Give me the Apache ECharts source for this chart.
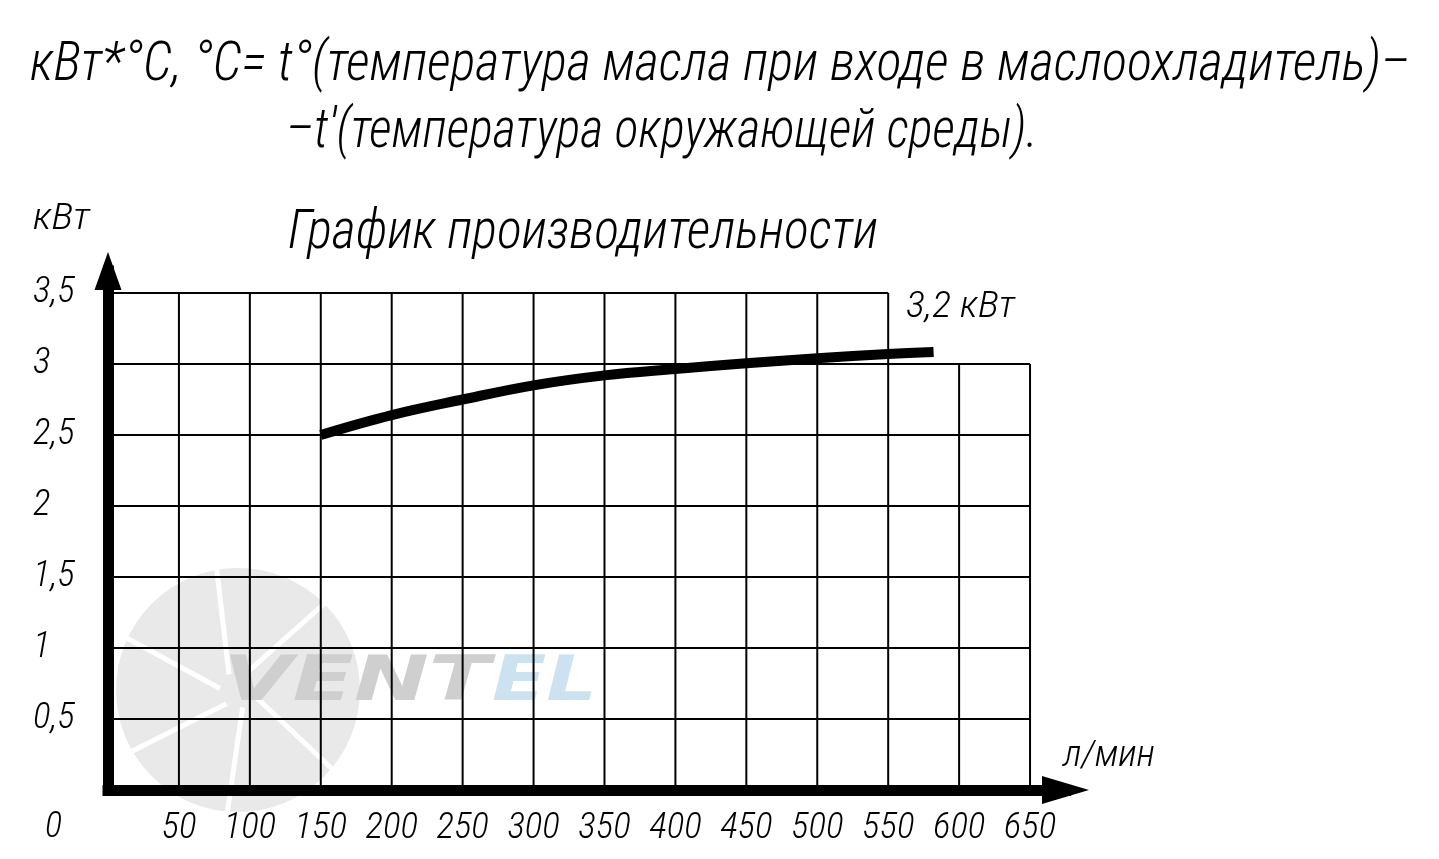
<!DOCTYPE html>
<html>
<head>
<meta charset="utf-8">
<script src="https://cdn.jsdelivr.net/npm/echarts@6/dist/echarts.min.js"></script>
<style>
html,body{margin:0;padding:0;background:#fff;}
#chart{width:1439px;height:859px;}
</style>
</head>
<body>
<div id="chart"></div>
<script>
// ---- data ----
const flowValues = [150, 200, 250, 300, 350, 400, 450, 500, 550, 582];      // л/мин
const powerValues = [2.5, 2.64, 2.75, 2.85, 2.92, 2.965, 3.005, 3.04, 3.07, 3.085]; // кВт
const xTicks = [0, 50, 100, 150, 200, 250, 300, 350, 400, 450, 500, 550, 600, 650];
const yTicks = [0, 0.5, 1, 1.5, 2, 2.5, 3, 3.5];
const upperRowEnd = 550;   // the 3–3.5 row of the grid stops at 550 л/мин
const curveLabel = '3,2 кВт';
const titleLine1 = 'кВт*°С, °С= t°(температура масла при входе в маслоохладитель)–';
const titleLine2 = '–t\'(температура окружающей среды).';
const chartTitle = 'График производительности';
const yUnit = 'кВт';
const xUnit = 'л/мин';

// pick the narrowest installed font
const cv = document.createElement('canvas').getContext('2d');
function has(f) {
  cv.font = '40px monospace'; const a = cv.measureText('абвгдежзийклмн wmWM 0123').width;
  cv.font = '40px "' + f + '", monospace'; const b = cv.measureText('абвгдежзийклмн wmWM 0123').width;
  return a !== b;
}
const candidates = ['Roboto Condensed', 'Liberation Sans Narrow', 'DejaVu Sans Condensed', 'Roboto'];
const FONTNAME = candidates.find(has) || 'sans-serif';
const FONT = '"' + FONTNAME + '", sans-serif';
const WEIGHT = /Roboto/.test(FONTNAME) ? 300 : 'normal';

const xMax = xTicks[xTicks.length - 1];
const yMax = yTicks[yTicks.length - 1];

// grid segments built from tick values
const gridSegments = [];
xTicks.forEach(x => { if (x > 0) gridSegments.push([x, 0, x, x <= upperRowEnd ? yMax : yTicks[yTicks.length - 2]]); });
yTicks.forEach(y => { if (y > 0) gridSegments.push([0, y, y === yMax ? upperRowEnd : xMax, y]); });

// text fitted to a width: x = left edge, y = vertical middle
function fitText(text, x, y, width, size, opts) {
  opts = opts || {};
  const font = (opts.style || 'italic') + ' ' + (opts.weight || WEIGHT) + ' ' + size + 'px ' + (opts.family || FONT);
  cv.font = font;
  const w = cv.measureText(text).width;
  return {type: 'text', x: x, y: y, scaleX: width / w, scaleY: 1, z: opts.z || 10, silent: true,
    style: {text: text, font: font, fill: opts.fill || '#000', align: 'left', verticalAlign: 'middle', x: 0, y: 0}};
}

const chart = echarts.init(document.getElementById('chart'), null, {renderer: 'canvas'});

// faint fan watermark
const fanCx = 238, fanCy = 690, fanR = 122;
const fanGraphics = [{type: 'circle', z: -30, silent: true, shape: {cx: fanCx, cy: fanCy, r: fanR}, style: {fill: '#e9e9e9'}}];
[20, 75, 130, 185, 240, 295].forEach(a => {
  const r0 = a * Math.PI / 180;
  fanGraphics.push({type: 'line', z: -29, silent: true,
    shape: {x1: fanCx + 18 * Math.cos(r0), y1: fanCy + 18 * Math.sin(r0), x2: fanCx + (fanR + 2) * Math.cos(r0 + 0.35), y2: fanCy + (fanR + 2) * Math.sin(r0 + 0.35)},
    style: {stroke: '#fff', lineWidth: 5}});
});

chart.setOption({
  backgroundColor: '#fff',
  animation: false,
  grid: {left: 108, right: 373.5, top: 271, bottom: 69, containLabel: false},
  xAxis: {
    type: 'value', min: 0, max: 675, interval: 50,
    axisLine: {show: true, symbol: ['none', 'triangle'], symbolSize: [28, 47],
      lineStyle: {color: '#000', width: 11, cap: 'square'}},
    axisTick: {show: false}, splitLine: {show: false},
    axisLabel: {
      interval: 0, margin: 20, color: '#000', fontSize: 37, fontStyle: 'italic', fontWeight: WEIGHT, fontFamily: FONT,
      formatter: v => (v === 0 || v > xMax) ? '' : String(v)
    }
  },
  yAxis: {
    type: 'value', min: 0, max: 3.655, interval: 0.5,
    axisLine: {show: true, symbol: ['none', 'triangle'], symbolSize: [27, 38],
      lineStyle: {color: '#000', width: 11, cap: 'square'}},
    axisTick: {show: false}, splitLine: {show: false},
    axisLabel: {
      interval: 0, margin: 75, align: 'left', color: '#000', fontSize: 37, fontStyle: 'italic', fontWeight: WEIGHT, fontFamily: FONT,
      formatter: v => (v === 0 || v > yMax) ? '' : String(v).replace('.', ',')
    }
  },
  graphic: fanGraphics.concat([
    fitText(titleLine1, 30, 66, 1380, 56),
    fitText(titleLine2, 286, 133, 752, 56),
    fitText(chartTitle, 288, 234, 590, 56),
    fitText(yUnit, 33, 220, 57, 37),
    fitText(curveLabel, 906, 308, 109, 37),
    fitText(xUnit, 1063, 757, 92, 37),
    fitText('0', 45, 828, 17, 37),
    fitText('VENT', 223, 684, 267, 62, {style: 'italic', weight: 'bold', family: '"DejaVu Sans"', fill: '#cfcfcf', z: -20}),
    fitText('EL', 492, 684, 105, 62, {style: 'italic', weight: 'bold', family: '"DejaVu Sans"', fill: '#cce2f1', z: -20})
  ]),
  series: [
    {
      type: 'custom', z: 1, silent: true,
      encode: {x: [0, 2], y: [1, 3]},
      data: gridSegments,
      renderItem: (params, api) => {
        const p1 = api.coord([api.value(0), api.value(1)]);
        const p2 = api.coord([api.value(2), api.value(3)]);
        return {type: 'line', shape: {x1: p1[0], y1: p1[1], x2: p2[0], y2: p2[1]},
          style: {stroke: '#000', lineWidth: 2}};
      }
    },
    {
      type: 'line', z: 3, smooth: 0.4, symbol: 'none', silent: true,
      data: flowValues.map((f, i) => [f, powerValues[i]]),
      lineStyle: {color: '#000', width: 10, cap: 'butt'}
    }
  ]
});
</script>
</body>
</html>
